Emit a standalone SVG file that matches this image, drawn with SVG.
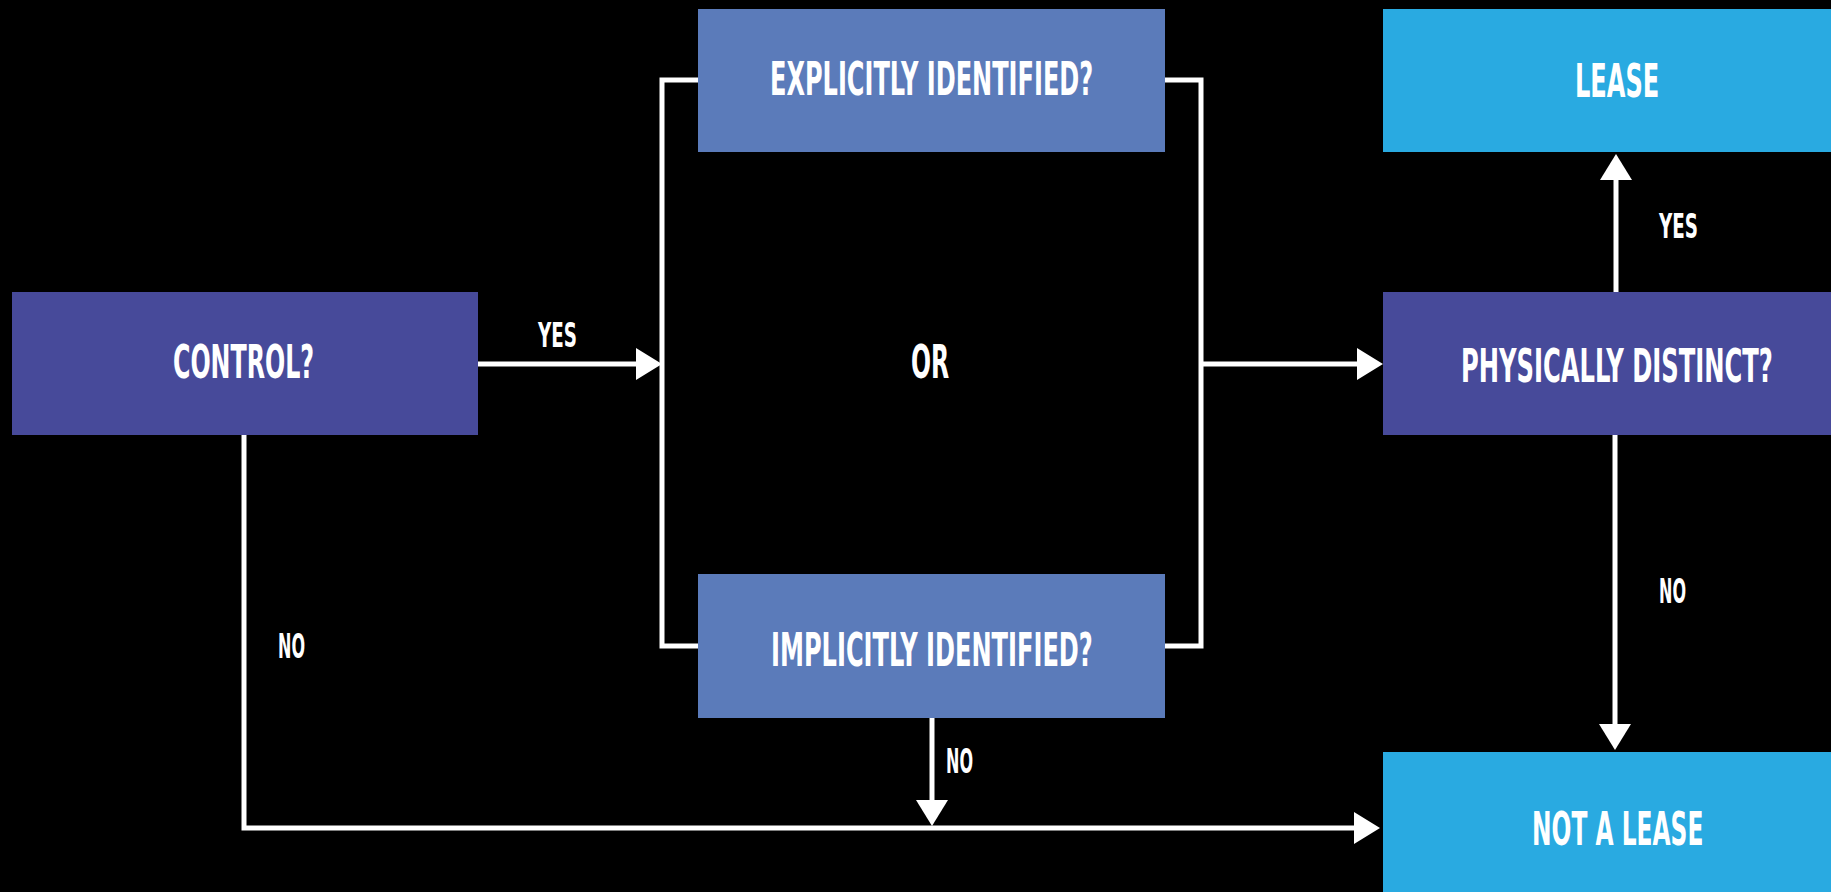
<svg xmlns="http://www.w3.org/2000/svg" width="1831" height="892" viewBox="0 0 1831 892">
<defs>
<marker id="arr" viewBox="0 0 26 32" refX="16" refY="16" markerWidth="26" markerHeight="32" markerUnits="userSpaceOnUse" orient="auto">
<path d="M0,0 L26,16 L0,32 z" fill="#ffffff"/>
</marker>
<style>
.box-dark{fill:#474a9a}
.box-mid{fill:#5b7bba}
.box-light{fill:#29aae1}
.t{font-family:"Liberation Sans Narrow","DejaVu Sans Condensed","Liberation Sans",sans-serif;font-weight:bold;fill:#ffffff;font-size:46px}
.l{font-family:"Liberation Sans Narrow","DejaVu Sans Condensed","Liberation Sans",sans-serif;font-weight:bold;fill:#ffffff;font-size:34px}
.c{fill:none;stroke:#ffffff;stroke-width:5}
</style>
</defs>
<rect x="0" y="0" width="1831" height="892" fill="#000000"/>
<g id="connectors">
<line class="c" x1="478" y1="364" x2="652" y2="364" marker-end="url(#arr)"/>
<polyline class="c" points="698,80 662,80 662,646 698,646"/>
<polyline class="c" points="1165,80 1201,80 1201,646 1165,646"/>
<line class="c" x1="1201" y1="364" x2="1373" y2="364" marker-end="url(#arr)"/>
<line class="c" x1="1616" y1="292" x2="1616" y2="164" marker-end="url(#arr)"/>
<line class="c" x1="1615" y1="435" x2="1615" y2="740" marker-end="url(#arr)"/>
<polyline class="c" points="244,435 244,828 1370,828" marker-end="url(#arr)"/>
<line class="c" x1="932" y1="718" x2="932" y2="816" marker-end="url(#arr)"/>
<text class="l" x="538" y="347" textLength="39" lengthAdjust="spacingAndGlyphs">YES</text>
<text class="l" x="1659" y="238" textLength="39" lengthAdjust="spacingAndGlyphs">YES</text>
<text class="l" x="278" y="658" textLength="27" lengthAdjust="spacingAndGlyphs">NO</text>
<text class="l" x="946" y="773" textLength="27" lengthAdjust="spacingAndGlyphs">NO</text>
<text class="l" x="1659" y="603" textLength="27" lengthAdjust="spacingAndGlyphs">NO</text>
</g>
<g id="control">
<rect class="box-dark" x="12" y="292" width="466" height="143"/>
<text class="t" transform="translate(173,378) scale(0.72,1)" x="0" y="0" textLength="196" lengthAdjust="spacingAndGlyphs">CONTROL?</text>
</g>
<g id="explicit">
<rect class="box-mid" x="698" y="9" width="467" height="143"/>
<text class="t" transform="translate(770,95) scale(0.72,1)" x="0" y="0" textLength="449" lengthAdjust="spacingAndGlyphs">EXPLICITLY IDENTIFIED?</text>
</g>
<g id="or">
<text class="t" transform="translate(911,378) scale(0.72,1)" x="0" y="0" textLength="53" lengthAdjust="spacingAndGlyphs">OR</text>
</g>
<g id="implicit">
<rect class="box-mid" x="698" y="574" width="467" height="144"/>
<text class="t" transform="translate(771,666) scale(0.72,1)" x="0" y="0" textLength="447" lengthAdjust="spacingAndGlyphs">IMPLICITLY IDENTIFIED?</text>
</g>
<g id="lease">
<rect class="box-light" x="1383" y="9" width="448" height="143"/>
<text class="t" transform="translate(1575,97) scale(0.72,1)" x="0" y="0" textLength="117" lengthAdjust="spacingAndGlyphs">LEASE</text>
</g>
<g id="physically-distinct">
<rect class="box-dark" x="1383" y="292" width="448" height="143"/>
<text class="t" transform="translate(1461,382) scale(0.55,1)" x="0" y="0" textLength="567" lengthAdjust="spacingAndGlyphs">PHYSICALLY DISTINCT?</text>
</g>
<g id="not-a-lease">
<rect class="box-light" x="1383" y="752" width="448" height="140"/>
<text class="t" transform="translate(1532,845) scale(0.72,1)" x="0" y="0" textLength="238" lengthAdjust="spacingAndGlyphs">NOT A LEASE</text>
</g>
</svg>
